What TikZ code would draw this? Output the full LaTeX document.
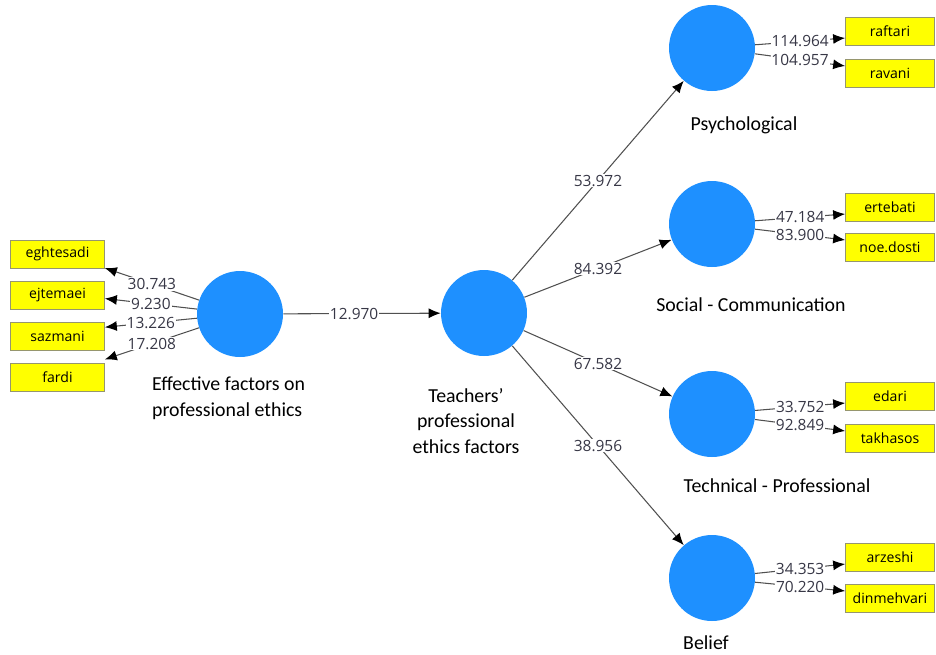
\documentclass[tikz,border=0pt]{standalone}
\usepackage{fontspec}
\setmainfont{Carlito}
\newfontfamily\boxfont{Open Sans}
\usepackage{tikz}
\usetikzlibrary{arrows}
\usetikzlibrary{arrows.meta}
\definecolor{lvblue}{RGB}{30,144,255}
\definecolor{mvyellow}{RGB}{255,255,0}
\definecolor{mvborder}{RGB}{150,150,110}
\definecolor{edgegray}{RGB}{80,80,80}
\definecolor{numgray}{RGB}{55,55,70}
\begin{document}
\begin{tikzpicture}[x=0.02cm,y=-0.02cm]
\tikzset{>={Latex[width=2mm,length=2.4mm,color=black]}}
\tikzstyle{latent} =[circle, fill = lvblue, inner sep=0pt, minimum size=1.72cm]
\tikzstyle{manifest} =[rectangle, fill = mvyellow, draw = mvborder, line width=0.4pt, inner sep=0pt, minimum width=1.88cm, minimum height=0.56cm, font=\boxfont\fontsize{8}{9}\selectfont]
\tikzstyle{rmanifest} =[manifest, minimum width=1.78cm]
\tikzstyle{num} =[fill = white, inner sep=0.5pt, text = numgray, font=\boxfont\fontsize{8.8}{9}\selectfont]
\tikzstyle{edge} =[->, draw = edgegray, line width=0.6pt]
\tikzstyle{title} =[font=\fontsize{11.3}{14.7}\selectfont, text = black]
\useasboundingbox (0,0) rectangle (936,654);

\node[latent](eff) at (240,314){};
\node[latent](tea) at (484,313){};
\node[latent](psy) at (712,48){};
\node[latent](soc) at (712,224){};
\node[latent](tec) at (712,414){};
\node[latent](bel) at (712,578){};

\node[manifest](eghtesadi) at (57.5,254){eghtesadi};
\node[manifest](ejtemaei) at (57.5,295){ejtemaei};
\node[manifest](sazmani) at (57.5,336){sazmani};
\node[manifest](fardi) at (57.5,377){fardi};

\node[rmanifest](raftari) at (890,31){raftari};
\node[rmanifest](ravani) at (890,73){ravani};
\node[rmanifest](ertebati) at (890,207){ertebati};
\node[rmanifest](noedosti) at (890,247){noe.dosti};
\node[rmanifest](edari) at (890,396){edari};
\node[rmanifest](takhasos) at (890,438){takhasos};
\node[rmanifest](arzeshi) at (890,557){arzeshi};
\node[rmanifest](dinmehvari) at (890,598){dinmehvari};

\node[title, align=left, anchor=west](efflab) at (146,398){Effective factors on\\professional ethics};
\node[title, align=center](tealab) at (466,421){Teachers’\\professional\\ethics factors};
\node[title](psylab) at (744,125){Psychological};
\node[title](soclab) at (751,305){Social - Communication};
\node[title](teclab) at (777,486){Technical - Professional};
\node[title](bellab) at (706,643){Belief};

\draw [edge] (eff) -- node[num]{30.743} ([yshift=-8pt]eghtesadi.east);
\draw [edge] (eff) -- node[num]{9.230} ([yshift=-2pt]ejtemaei.east);
\draw [edge] (eff) -- node[num]{13.226} ([yshift=5pt]sazmani.east);
\draw [edge] (eff) -- node[num]{17.208} ([yshift=10pt]fardi.east);

\draw [edge] (eff) -- node[num, pos=0.45]{12.970} (tea);
\draw [edge] (tea) -- node[num]{53.972} (psy);
\draw [edge] (tea) -- node[num]{84.392} (soc);
\draw [edge] (tea) -- node[num]{67.582} (tec);
\draw [edge] (tea) -- node[num]{38.956} (bel);

\draw [edge] (psy) -- node[num]{114.964} ([yshift=-4pt]raftari.west);
\draw [edge] (psy) -- node[num]{104.957} ([yshift=4pt]ravani.west);
\draw [edge] (soc) -- node[num]{47.184} ([yshift=-4pt]ertebati.west);
\draw [edge] (soc) -- node[num]{83.900} ([yshift=4pt]noedosti.west);
\draw [edge] (tec) -- node[num]{33.752} ([yshift=-4pt]edari.west);
\draw [edge] (tec) -- node[num]{92.849} ([yshift=4pt]takhasos.west);
\draw [edge] (bel) -- node[num]{34.353} ([yshift=-4pt]arzeshi.west);
\draw [edge] (bel) -- node[num]{70.220} ([yshift=4pt]dinmehvari.west);
\end{tikzpicture}
\end{document}
